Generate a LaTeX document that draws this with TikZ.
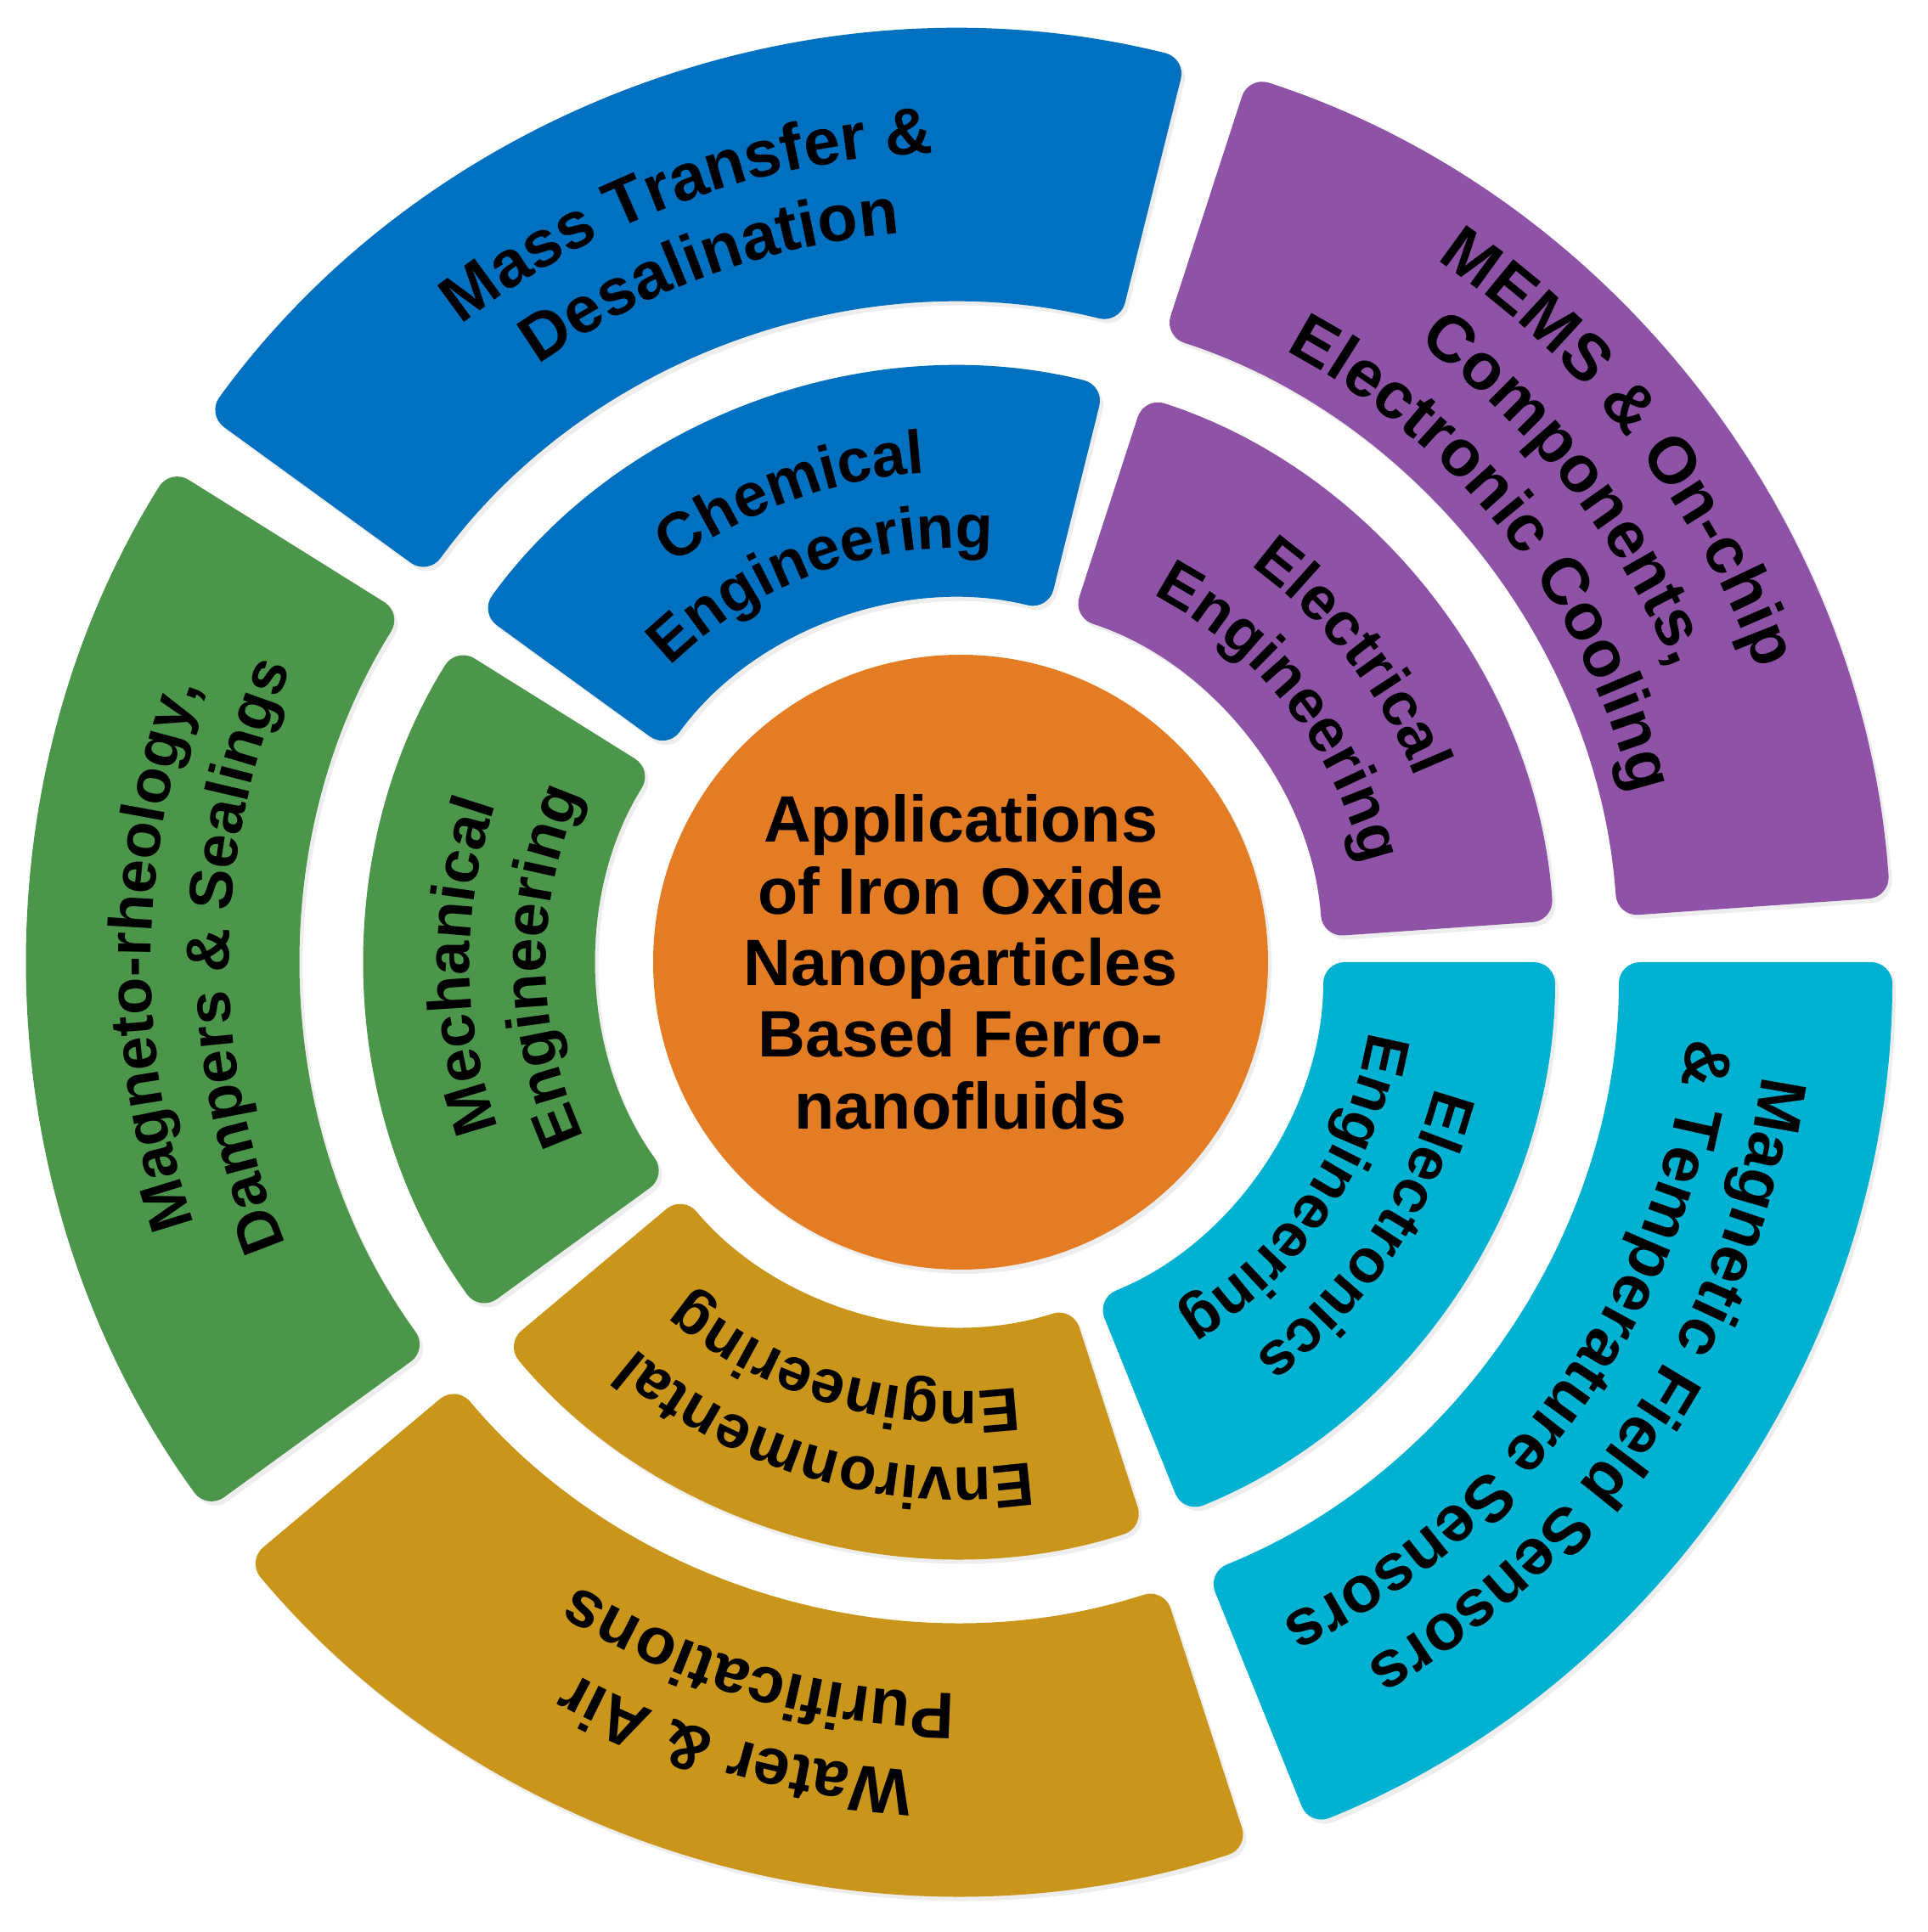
\documentclass[tikz,border=0pt]{standalone}
\usepackage{fontspec}
\setmainfont{Liberation Sans}
\usetikzlibrary{decorations.text, shadows}

\definecolor{segblue}{RGB}{0,112,192}
\definecolor{segpurple}{RGB}{142,83,166}
\definecolor{segcyan}{RGB}{0,177,210}
\definecolor{seggold}{RGB}{201,150,27}
\definecolor{seggreen}{RGB}{75,150,74}
\definecolor{huborange}{RGB}{228,124,36}

\newcommand{\outerfont}{\bfseries\fontsize{22}{26}\selectfont}
\newcommand{\innerfont}{\bfseries\fontsize{20.5}{24}\selectfont}

% one ring block: style, mid angle, inner radius, outer radius
\newcommand{\ringseg}[4]{%
  \fill[#1] ({#2+34}:{(#3+#4)/2}) -- ({#2+34}:#4)
    arc[start angle={#2+34}, end angle={#2-34}, radius=#4]
    -- ({#2-34}:#3)
    arc[start angle={#2-34}, end angle={#2+34}, radius=#3] -- cycle;}

% one curved text line: font, mid angle, baseline radius, text
\newcommand{\arclabel}[4]{%
  \path[decorate, decoration={text along path, text align=center,
      text={|#1|#4}}]
    ({#2+34}:#3) arc[start angle={#2+34}, end angle={#2-34}, radius=#3];}

\begin{document}
\begin{tikzpicture}[
  % ---- Style definitions ----
  seg/.style={
    rounded corners=0.25cm,
    drop shadow={opacity=0.14, shadow xshift=0.04cm, shadow yshift=-0.05cm}
  },
  hub/.style={
    circle, fill=huborange, minimum size=7.24cm, inner sep=0pt,
    align=center, font=\bfseries\fontsize{22}{24}\selectfont,
    drop shadow={opacity=0.14, shadow xshift=0.04cm, shadow yshift=-0.05cm}
  },
]
\useasboundingbox (-11.31,-11.42) rectangle (11.38,11.33);

% ---- Inner ring ----
\ringseg{seg, fill=segblue}{110}{4.27}{7.0}
\ringseg{seg, fill=segpurple}{38}{4.27}{7.0}
\ringseg{seg, fill=segcyan}{-34}{4.27}{7.0}
\ringseg{seg, fill=seggold}{-106}{4.27}{7.0}
\ringseg{seg, fill=seggreen}{182}{4.27}{7.0}

% ---- Outer ring ----
\ringseg{seg, fill=segblue}{110}{7.75}{10.97}
\ringseg{seg, fill=segpurple}{38}{7.75}{10.97}
\ringseg{seg, fill=segcyan}{-34}{7.75}{10.97}
\ringseg{seg, fill=seggold}{-106}{7.75}{10.97}
\ringseg{seg, fill=seggreen}{182}{7.75}{10.97}

% ---- Centre ----
\node[hub] (hub) at (0,0) {Applications\\of Iron Oxide\\Nanoparticles\\Based Ferro-\\nanofluids};

% ---- Inner labels ----
\arclabel{\innerfont}{110}{5.78}{Chemical}
\arclabel{\innerfont}{110}{4.88}{Engineering}
\arclabel{\innerfont}{38}{5.78}{Electrical}
\arclabel{\innerfont}{38}{4.88}{Engineering}
\arclabel{\innerfont}{-34}{5.78}{Electronics}
\arclabel{\innerfont}{-34}{4.88}{Engineering}
\arclabel{\innerfont}{-106}{5.95}{Environmental}
\arclabel{\innerfont}{-106}{5.05}{Engineering}
\arclabel{\innerfont}{180.5}{5.78}{Mechanical}
\arclabel{\innerfont}{180.5}{4.88}{Engineering}

% ---- Outer labels ----
\arclabel{\outerfont}{110}{9.53}{Mass Transfer {\&}}
\arclabel{\outerfont}{110}{8.61}{Desalination}
\arclabel{\outerfont}{38}{9.99}{MEMS {\&} On-chip}
\arclabel{\outerfont}{38}{9.07}{Components,}
\arclabel{\outerfont}{38}{8.15}{Electronic Cooling}
\arclabel{\outerfont}{-34}{9.53}{Magnetic Field Sensors}
\arclabel{\outerfont}{-35}{8.61}{{\&} Temperature Sensors}
\arclabel{\outerfont}{-106}{9.53}{Water {\&} Air}
\arclabel{\outerfont}{-106}{8.61}{Purifications}
\arclabel{\innerfont}{179.5}{9.53}{Magneto-rheology,}
\arclabel{\innerfont}{179.5}{8.61}{Dampers {\&} Sealings}

\end{tikzpicture}
\end{document}
